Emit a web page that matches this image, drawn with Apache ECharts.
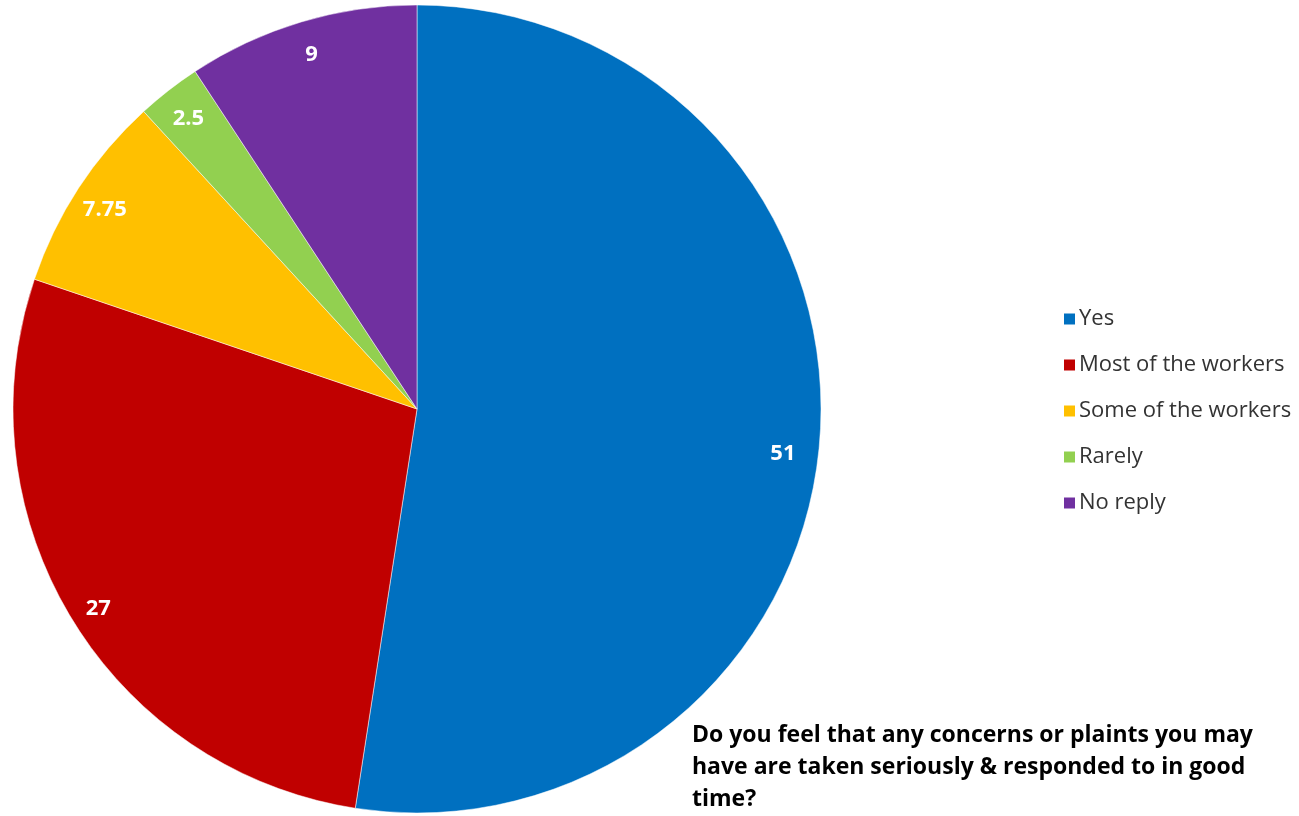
<!DOCTYPE html>
<html><head><meta charset="utf-8">
<script src="https://cdn.jsdelivr.net/npm/echarts@6/dist/echarts.min.js"></script>
<style>html,body{margin:0;padding:0;background:#fff}#c{width:1299px;height:816px}</style>
</head><body><div id="c"></div>
<script>
const categories = ['Yes', 'Most of the workers', 'Some of the workers', 'Rarely', 'No reply'];
const values = [51, 27, 7.75, 2.5, 9];
const colors = ['#0070C0', '#C00000', '#FFC000', '#92D050', '#7030A0'];
const titleText = 'Do you feel that any concerns or plaints you may\nhave are taken seriously & responded to in good\ntime?';

const chart = echarts.init(document.getElementById('c'), null, {renderer: 'canvas'});
const data = categories.map((n, i) => ({name: n, value: values[i], itemStyle: {color: colors[i]}}));
const font = '"Open Sans", "Liberation Sans", sans-serif';
chart.setOption({
  animation: false,
  title: {
    text: titleText, left: 687, top: 714,
    textStyle: {fontFamily: font, fontWeight: 'bold', fontSize: 23, color: '#000', lineHeight: 32}
  },
  legend: {
    orient: 'vertical', left: 1057, top: 303, itemGap: 24,
    itemWidth: 13, itemHeight: 13, icon: 'rect',
    data: categories,
    textStyle: {fontFamily: font, fontSize: 22, color: '#333333', padding: [0, 0, 0, -2]}
  },
  series: [{
    type: 'pie', center: [417, 409], radius: [0, 404],
    startAngle: 90, clockwise: true, silent: true,
    label: {show: false}, labelLine: {show: false},
    itemStyle: {borderWidth: 0.5, borderColor: '#fff'},
    data: data
  }, {
    type: 'pie', center: [417, 409], radius: [340, 404],
    startAngle: 90, clockwise: true, silent: true, legendHoverLink: false,
    itemStyle: {color: 'rgba(0,0,0,0)'},
    label: {show: true, position: 'inside', formatter: p => String(p.value),
      fontFamily: font, fontWeight: 'bold', fontSize: 22, color: '#fff'},
    labelLine: {show: false},
    labelLayout: p => (p.dataIndex === 0 ? {dx: -8, dy: 16} : {dx: 2, dy: 5}),
    data: categories.map((n, i) => ({name: n + ' ', value: values[i]}))
  }]
});
</script></body></html>
